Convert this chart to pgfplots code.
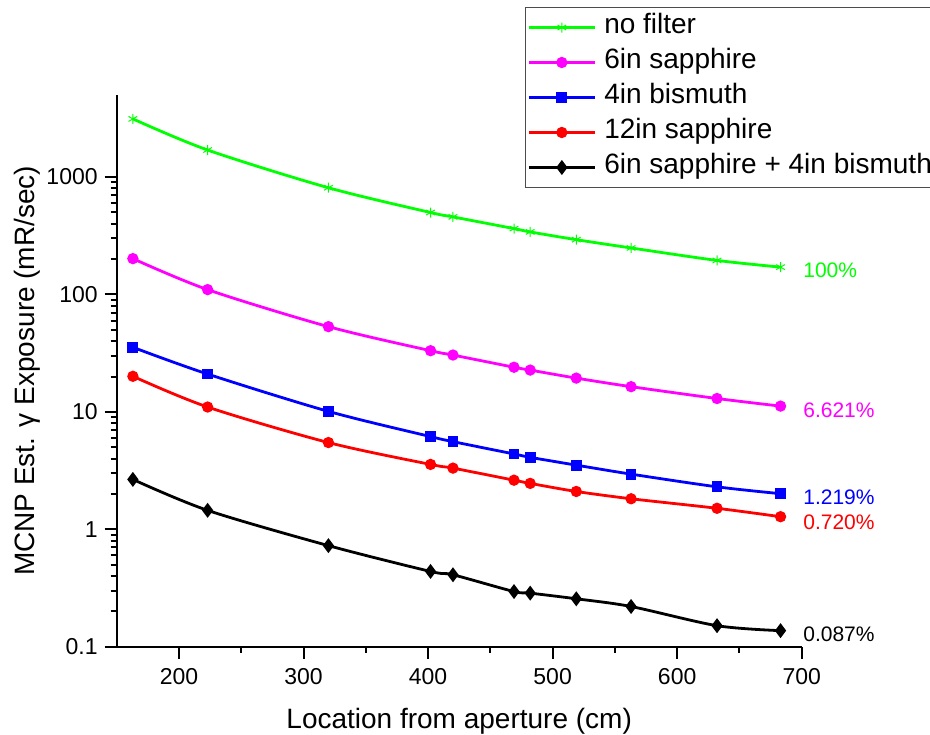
\documentclass[border=0pt]{standalone}
\usepackage{fontspec}
\setmainfont{Liberation Sans}
\usepackage{pgfplots}
\pgfplotsset{compat=1.18}
\definecolor{cgreen}{RGB}{0,255,0}
\definecolor{cmag}{RGB}{255,0,255}
\definecolor{cblue}{RGB}{0,0,255}
\definecolor{cred}{RGB}{255,0,0}
\begin{document}
\begin{tikzpicture}
\useasboundingbox (-58.35pt,-43.65pt) rectangle (406.65pt,323.35pt);
\clip (-58.35pt,-43.65pt) rectangle (406.65pt,323.35pt);
\begin{axis}[
  at={(0pt,0pt)}, anchor=south west,
  scale only axis, width=342.5pt, height=275.85pt,
  xmin=150, xmax=700, ymode=log, ymin=0.1, ymax=5000,
  axis x line*=bottom, axis y line*=left,
  axis line style={line width=1pt,-},
  xtick={200,300,400,500,600,700},
  xticklabels={200,300,400,500,600,700},
  minor x tick num=1,
  ytick={0.1,1,10,100,1000},
  yticklabels={0.1,1,10,100,1000},
  tick align=outside, major tick length=6pt, minor tick length=3pt,
  every tick/.style={black, line width=1pt},
  /pgf/number format/assume math mode=true,
  tick label style={font=\fontsize{11.5}{13}\selectfont},
  xticklabel style={yshift=-1.5pt},
  label style={font=\fontsize{14}{16}\selectfont},
  xlabel={Location from aperture (cm)},
  ylabel={MCNP Est. γ Exposure (mR/sec)},
  xlabel style={at={(axis description cs:0.5,-0.1347)}, anchor=center},
  ylabel style={at={(axis description cs:-0.1305,0.5)}, anchor=center},
  clip=false,
  legend cell align=left,
  legend style={at={(axis description cs:0.596,1.1595)}, anchor=north west,
    draw=black!70, line width=0.5pt, font=\fontsize{14}{16}\selectfont,
    inner xsep=1pt, inner ysep=1.25pt, row sep=0pt, column sep=4pt,
    nodes={inner sep=0pt, text height=11.5pt, text depth=6pt}},
  legend image code/.code={\draw[mark repeat=2,mark phase=2,#1] plot coordinates {(0pt,0pt)(16.5pt,0pt)(33pt,0pt)};},
  every axis plot/.append style={line width=1.4pt, smooth},
]
\addplot[cgreen, mark=asterisk, mark size=2.5pt, mark options={line width=0.5pt}] coordinates {
(163,3130)(223,1700)(320,811)(402,499)(420,458)(469,364)(482,341)(519,293)(563,249)(632,195)(683,171)};
\addlegendentry{no filter}
\addplot[cmag, mark=*, mark size=2.1pt] coordinates {
(163,202)(223,110)(320,53.2)(402,33.2)(420,30.5)(469,24.0)(482,22.7)(519,19.4)(563,16.4)(632,13.0)(683,11.2)};
\addlegendentry{6in sapphire}
\addplot[cblue, mark=square*, mark size=2pt] coordinates {
(163,35.5)(223,21.0)(320,10.1)(402,6.16)(420,5.58)(469,4.38)(482,4.10)(519,3.52)(563,2.95)(632,2.30)(683,2.01)};
\addlegendentry{4in bismuth}
\addplot[cred, mark=*, mark size=2.1pt] coordinates {
(163,20.1)(223,11.0)(320,5.48)(402,3.57)(420,3.32)(469,2.62)(482,2.46)(519,2.10)(563,1.82)(632,1.51)(683,1.28)};
\addlegendentry{12in sapphire}
\addplot[black, mark=diamond*, mark size=2.6pt] coordinates {
(163,2.66)(223,1.45)(320,0.726)(402,0.4375)(420,0.410)(469,0.295)(482,0.286)(519,0.256)(563,0.220)(632,0.151)(683,0.137)};
\addlegendentry{6in sapphire + 4in bismuth}
\node[anchor=west, text=cgreen, font=\fontsize{10.5}{12}\selectfont, inner sep=0pt] at (axis cs:701,159.4) {100\%};
\node[anchor=west, text=cmag, font=\fontsize{10.5}{12}\selectfont, inner sep=0pt] at (axis cs:701,10.34) {6.621\%};
\node[anchor=west, text=cblue, font=\fontsize{10.5}{12}\selectfont, inner sep=0pt] at (axis cs:701,1.866) {1.219\%};
\node[anchor=west, text=cred, font=\fontsize{10.5}{12}\selectfont, inner sep=0pt] at (axis cs:701,1.14) {0.720\%};
\node[anchor=west, text=black, font=\fontsize{10.5}{12}\selectfont, inner sep=0pt] at (axis cs:701,0.1284) {0.087\%};
\end{axis}
\end{tikzpicture}
\end{document}
